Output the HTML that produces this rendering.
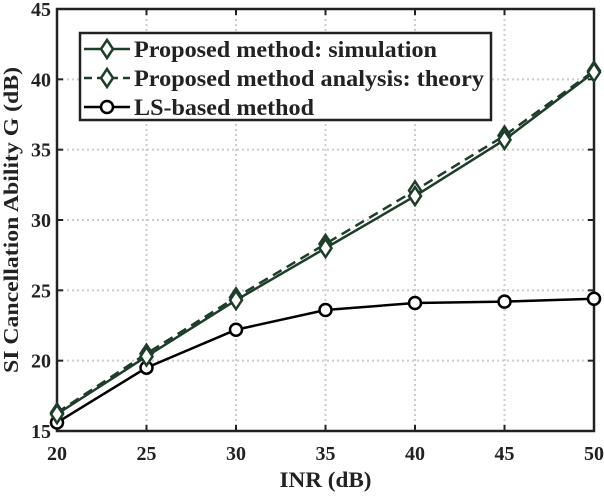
<!DOCTYPE html>
<html><head><meta charset="utf-8"><style>
body{margin:0;background:#fff}
svg text{font-family:"Liberation Serif",serif;font-weight:bold;fill:#222}
</style></head><body>
<svg id="chart" width="604" height="492" xmlns="http://www.w3.org/2000/svg"></svg>
<script>
const xValues=[20,25,30,35,40,45,50];
const simValues=[16.2,20.3,24.3,28.0,31.7,35.7,40.5];
const theoryValues=[16.3,20.5,24.5,28.3,32.1,36.0,40.6];
const lsValues=[15.6,19.5,22.2,23.6,24.1,24.2,24.4];
const xTicks=[20,25,30,35,40,45,50];
const yTicks=[15,20,25,30,35,40,45];
const L=57,R=594,T=9,B=431;
const sx=v=>L+(v-20)/30*(R-L);
const sy=v=>B-(v-15)/30*(B-T);
const svg=document.getElementById('chart');
const NS='http://www.w3.org/2000/svg';
function mk(tag,attrs,name){const e=document.createElementNS(NS,tag);for(const k in attrs)e.setAttribute(k,attrs[k]);


svg.appendChild(e);return e;}
xTicks.forEach(v=>{if(v>20&&v<50)mk('line',{x1:sx(v),x2:sx(v),y1:T,y2:B,stroke:'#ccc','stroke-width':2,'stroke-dasharray':'2,3'},'x-grid-line');});
yTicks.forEach(v=>{if(v>15&&v<45)mk('line',{x1:L,x2:R,y1:sy(v),y2:sy(v),stroke:'#ccc','stroke-width':2,'stroke-dasharray':'2,3'},'y-grid-line');});
xTicks.forEach(v=>{mk('line',{x1:sx(v),x2:sx(v),y1:B,y2:B-6,stroke:'#222','stroke-width':2},'x-tick');mk('line',{x1:sx(v),x2:sx(v),y1:T,y2:T+6,stroke:'#222','stroke-width':2},'x-tick-top');
const t=mk('text',{x:sx(v),y:B+29,'text-anchor':'middle','font-size':20},'x-tick-label');t.textContent=v;});
yTicks.forEach(v=>{mk('line',{x1:L,x2:L+6,y1:sy(v),y2:sy(v),stroke:'#222','stroke-width':2},'y-tick');mk('line',{x1:R,x2:R-6,y1:sy(v),y2:sy(v),stroke:'#222','stroke-width':2},'y-tick-right');
const t=mk('text',{x:L-6,y:sy(v)+7,'text-anchor':'end','font-size':20},'y-tick-label');t.textContent=v;});
mk('rect',{x:L,y:T,width:R-L,height:B-T,fill:'none',stroke:'#222','stroke-width':2.5},'plot-frame');
const xt=mk('text',{x:(L+R)/2,y:487,'text-anchor':'middle','font-size':22,textLength:92,lengthAdjust:'spacingAndGlyphs'},'x-axis-title');xt.textContent='INR (dB)';
const yt=mk('text',{x:0,y:0,'text-anchor':'middle','font-size':21,textLength:306,lengthAdjust:'spacingAndGlyphs',transform:`translate(18,220) rotate(-90)`},'y-axis-title');yt.textContent='SI Cancellation Ability G (dB)';
const G='#1e3d2a';
function diamond(x,y,name){mk('polygon',{points:`${x},${y-9} ${x+6},${y} ${x},${y+9} ${x-6},${y}`,fill:'#fff',stroke:G,'stroke-width':2.5},name);}
function series(vals,color,dash,marker,name){
 mk('polyline',{points:xValues.map((x,i)=>sx(x)+','+sy(vals[i])).join(' '),fill:'none',stroke:color,'stroke-width':2.5,'stroke-dasharray':dash||''},name+'-line');
 xValues.forEach((x,i)=>{if(marker==='d')diamond(sx(x),sy(vals[i]),name+'-marker');else mk('circle',{cx:sx(x),cy:sy(vals[i]),r:6,fill:'#fff',stroke:'#000','stroke-width':2.5},name+'-marker');});
}
series(lsValues,'#000','', 'o','ls-series');
series(theoryValues,G,'10,6','d','theory-series');
series(simValues,G,'','d','sim-series');
mk('rect',{x:80,y:33,width:411,height:87,fill:'#fff',stroke:'#222','stroke-width':2.5},'legend-box');
const items=[['Proposed method: simulation',G,'','d',303],['Proposed method analysis: theory',G,'8,5','d',350],['LS-based method','#000','','o',180]];
items.forEach((it,i)=>{const y=49+i*29;
 mk('line',{x1:84,x2:130,y1:y,y2:y,stroke:it[1],'stroke-width':2.5,'stroke-dasharray':it[2]},'legend-line');
 if(it[3]==='d')diamond(107,y,'legend-marker');else mk('circle',{cx:107,cy:y,r:6,fill:'#fff',stroke:'#000','stroke-width':2.5},'legend-marker');
 const t=mk('text',{x:134,y:y+8,'font-size':23,textLength:it[4],lengthAdjust:'spacingAndGlyphs'},'legend-entry');t.textContent=it[0];});
</script>
</body></html>
